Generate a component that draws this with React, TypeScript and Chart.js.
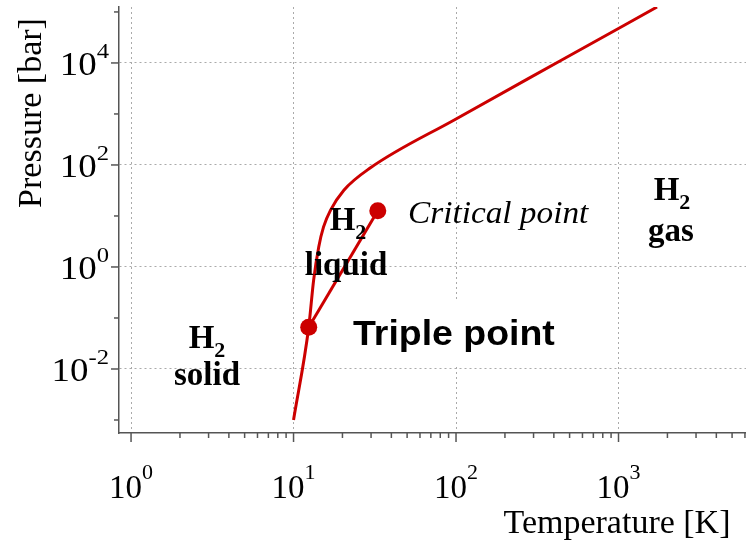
import React, { useEffect, useRef } from 'react';
import { Chart, registerables } from 'chart.js';

Chart.register(...registerables);

// Phase boundary of H2 (sublimation + melting curve), temperature [K] / pressure [bar]
const curveT = [10, 12.4, 13.3, 14.3, 15.3, 16.9, 20.4, 29.6, 100, 436, 1726];
const curveP = [1e-3, 0.066, 0.56, 2.5, 6.1, 13, 32, 87, 798, 10900, 125000];
// Vapour-pressure line: triple point -> critical point
const vaporT = [12.4, 33];
const vaporP = [0.066, 12.6];
// Marked points
const pointT = [12.4, 33];
const pointP = [0.066, 12.6];

const xMajor = [1, 10, 100, 1000];
const xMinorMult = [2, 3, 4, 5, 6, 7, 8, 9];
const yMajor = [1e-2, 1, 1e2, 1e4];
const yMinor = [1e-3, 1e-1, 1e1, 1e3, 1e5];

const X_MIN = 0.843;
const X_MAX = 6090;
const Y_MIN = 5.56e-4;
const Y_MAX = 1.25e5;

const RED = '#cc0000';
const SERIF = '"Liberation Serif", "Times New Roman", serif';
const SANS = '"Liberation Sans", Arial, sans-serif';

function txt(ctx: CanvasRenderingContext2D, s: string, x: number, y: number, font: string, align: CanvasTextAlign = 'left', sx = 1) {
  ctx.save();
  ctx.font = font;
  ctx.textAlign = align;
  ctx.textBaseline = 'alphabetic';
  ctx.fillStyle = '#000';
  ctx.translate(x, y);
  ctx.scale(sx, 1);
  ctx.fillText(s, 0, 0);
  ctx.restore();
}

function h2(ctx: CanvasRenderingContext2D, cx: number, baseline: number) {
  const fH = `bold 33px ${SERIF}`;
  const f2 = `bold 22px ${SERIF}`;
  ctx.save();
  ctx.font = fH;
  const wH = ctx.measureText('H').width;
  ctx.font = f2;
  const w2 = ctx.measureText('2').width;
  ctx.restore();
  const x0 = cx - (wH + w2) / 2;
  txt(ctx, 'H', x0, baseline, fH);
  txt(ctx, '2', x0 + wH, baseline + 9, f2);
}

function expLabel(v: number) {
  return String(Math.round(Math.log10(v)));
}

const overlay = {
  id: 'overlay',
  beforeDatasetsDraw(chart: any) {
    const ctx = chart.ctx as CanvasRenderingContext2D;
    ctx.save();
    ctx.fillStyle = '#fff';
    ctx.fillRect(345, 300, 220, 66);
    ctx.restore();
  },
  afterDraw(chart: any) {
    const ctx = chart.ctx as CanvasRenderingContext2D;
    const xs = chart.scales.x;
    const ys = chart.scales.y;
    const { left, bottom } = chart.chartArea;

    // tick marks
    ctx.save();
    ctx.strokeStyle = '#555';
    ctx.lineWidth = 1.5;
    const line = (x1: number, y1: number, x2: number, y2: number) => {
      ctx.beginPath();
      ctx.moveTo(x1, y1);
      ctx.lineTo(x2, y2);
      ctx.stroke();
    };
    for (const v of xMajor) {
      const px = xs.getPixelForValue(v);
      line(px, bottom, px, bottom + 9);
      for (const m of xMinorMult) {
        const mv = v * m;
        if (mv <= X_MAX) {
          const mp = xs.getPixelForValue(mv);
          line(mp, bottom, mp, bottom + 5);
        }
      }
    }
    for (const v of yMajor) {
      const py = ys.getPixelForValue(v);
      line(left - 8, py, left, py);
    }
    for (const v of yMinor) {
      const py = ys.getPixelForValue(v);
      line(left - 5, py, left, py);
    }
    ctx.restore();

    // x tick labels
    const fMain = `33px ${SERIF}`;
    const fSup = `22px ${SERIF}`;
    for (const v of xMajor) {
      const px = xs.getPixelForValue(v);
      const e = expLabel(v);
      ctx.save();
      ctx.font = fMain;
      const w1 = ctx.measureText('10').width;
      ctx.font = fSup;
      const w2 = ctx.measureText(e).width;
      ctx.restore();
      const x0 = px - (w1 + w2) / 2;
      txt(ctx, '10', x0, 498, fMain);
      txt(ctx, e, x0 + w1, 479, fSup);
    }
    // y tick labels
    const sx = 1.12;
    for (const v of yMajor) {
      const py = ys.getPixelForValue(v);
      const e = expLabel(v);
      ctx.save();
      ctx.font = fMain;
      const w1 = ctx.measureText('10').width * sx;
      ctx.font = fSup;
      const w2 = ctx.measureText(e).width * sx;
      ctx.restore();
      const x0 = 109 - (w1 + w2);
      txt(ctx, '10', x0, py + 12, fMain, 'left', sx);
      txt(ctx, e, x0 + w1, py - 5, fSup, 'left', sx);
    }

    // axis titles
    txt(ctx, 'Temperature [K]', 617, 533, `34px ${SERIF}`, 'center');
    ctx.save();
    ctx.translate(41, 113);
    ctx.rotate(-Math.PI / 2);
    ctx.font = `34px ${SERIF}`;
    ctx.textAlign = 'center';
    ctx.textBaseline = 'alphabetic';
    ctx.fillStyle = '#000';
    ctx.fillText('Pressure [bar]', 0, 0);
    ctx.restore();

    // region labels
    h2(ctx, 207, 348);
    txt(ctx, 'solid', 207, 385, `bold 33px ${SERIF}`, 'center');
    h2(ctx, 348, 230);
    txt(ctx, 'liquid', 346, 275, `bold 33px ${SERIF}`, 'center');
    h2(ctx, 672, 200);
    txt(ctx, 'gas', 671, 241, `bold 33px ${SERIF}`, 'center');

    txt(ctx, 'Critical point', 408, 223, `italic 32px ${SERIF}`, 'left', 1.04);
    txt(ctx, 'Triple point', 353, 345, `bold 35px ${SANS}`, 'left', 1.07);
  },
};

export default function App() {
  const ref = useRef<HTMLCanvasElement | null>(null);

  useEffect(() => {
    document.body.style.margin = '0';
    const canvas = ref.current;
    if (!canvas) return;
    const chart = new Chart(canvas, {
      type: 'line',
      data: {
        datasets: [
          {
            data: curveT.map((t, i) => ({ x: t, y: curveP[i] })),
            borderColor: RED,
            borderWidth: 3,
            pointRadius: 0,
            cubicInterpolationMode: 'monotone',
            fill: false,
          },
          {
            data: vaporT.map((t, i) => ({ x: t, y: vaporP[i] })),
            borderColor: RED,
            borderWidth: 3,
            pointRadius: 0,
            tension: 0,
            fill: false,
          },
          {
            data: pointT.map((t, i) => ({ x: t, y: pointP[i] })),
            showLine: false,
            pointRadius: 8.5,
            pointBackgroundColor: RED,
            pointBorderColor: RED,
            pointBorderWidth: 0,
          },
        ],
      } as any,
      options: {
        animation: false,
        responsive: false,
        maintainAspectRatio: false,
        layout: { autoPadding: false, padding: { top: 7, right: 0, left: 0, bottom: 0 } },
        plugins: { legend: { display: false }, tooltip: { enabled: false } },
        scales: {
          x: {
            type: 'logarithmic',
            min: X_MIN,
            max: X_MAX,
            bounds: 'data',
            afterBuildTicks: (s: any) => {
              s.ticks = xMajor.map((v) => ({ value: v }));
            },
            afterFit: (s: any) => {
              s.height = 110;
            },
            ticks: { display: false },
            grid: { color: '#aaaaaa', lineWidth: 1, drawTicks: false },
            border: { display: true, color: '#555', width: 1.5, dash: [2, 3] },
          },
          y: {
            type: 'logarithmic',
            min: Y_MIN,
            max: Y_MAX,
            bounds: 'data',
            afterBuildTicks: (s: any) => {
              s.ticks = yMajor.map((v) => ({ value: v }));
            },
            afterFit: (s: any) => {
              s.width = 119;
            },
            ticks: { display: false },
            grid: { color: '#aaaaaa', lineWidth: 1, drawTicks: false },
            border: { display: true, color: '#555', width: 1.5, dash: [2, 3] },
          },
        },
      } as any,
      plugins: [overlay],
    });
    return () => chart.destroy();
  }, []);

  return (
    <div style={{ position: 'absolute', left: 0, top: 0, width: 746, height: 543, background: '#fff' }}>
      <canvas ref={ref} width={746} height={543} style={{ width: 746, height: 543, display: 'block' }} />
    </div>
  );
}
